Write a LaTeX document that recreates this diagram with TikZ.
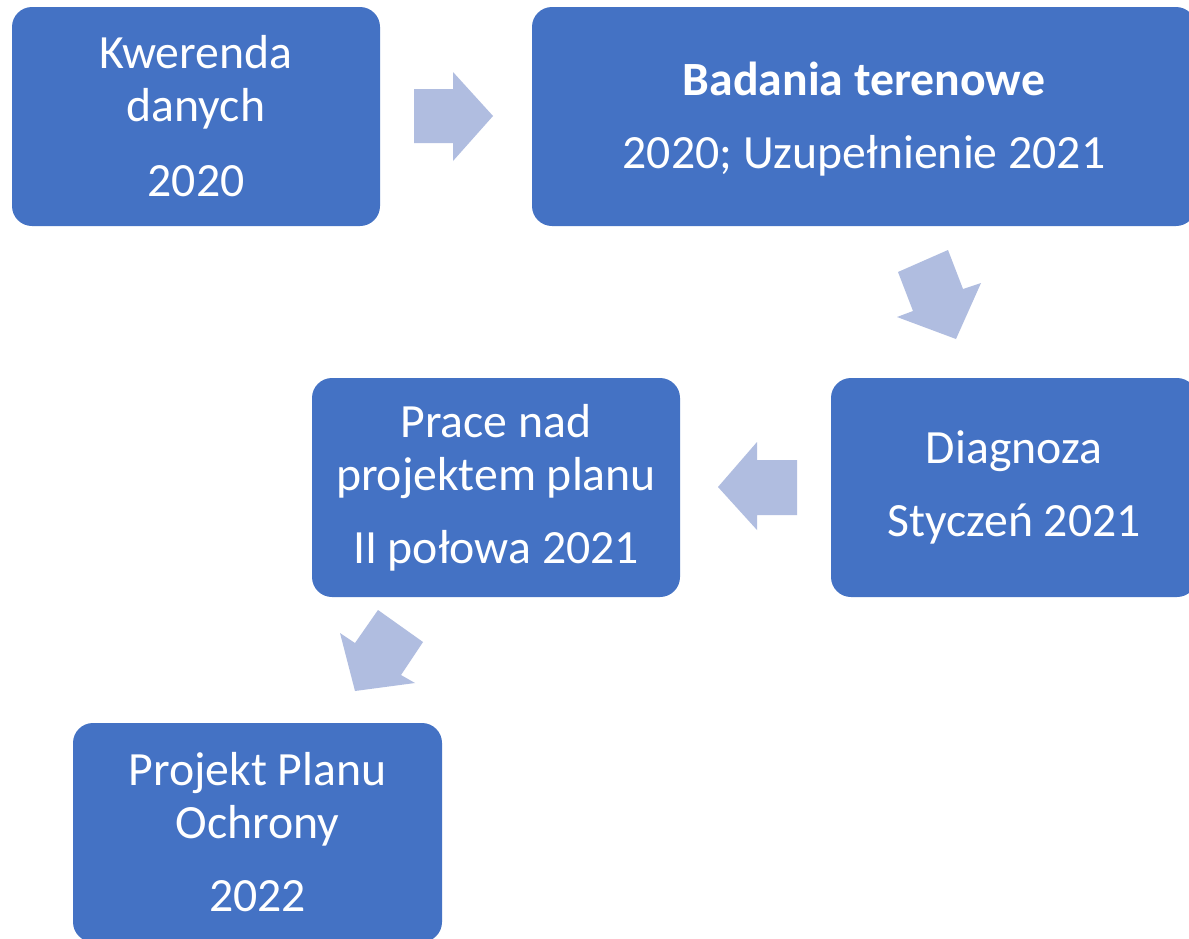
\documentclass[tikz,border=0pt]{standalone}
\usepackage{fontspec}
\setmainfont{Carlito}
\definecolor{boxblue}{HTML}{4472C4}
\definecolor{arrowblue}{HTML}{B0BDE0}
\begin{document}
\begin{tikzpicture}[x=0.75pt,y=-0.75pt,
  stepbox/.style={draw=none,fill=boxblue,rounded corners=15pt,text=white,align=center,
    inner sep=0pt,font=\fontsize{35.8pt}{39.75pt}\selectfont},
  steptext/.style={text=white,align=center,inner sep=0pt,font=\fontsize{35.8pt}{39.75pt}\selectfont},
  blockarrow/.style={fill=arrowblue,draw=none}]
\useasboundingbox (0,0) rectangle (1189,939);
\fill[white] (0,0) rectangle (1189,939);
% boxes
\node[stepbox,minimum width=368*0.75pt,minimum height=219*0.75pt] (b1) at (196,116.5)
  {Kwerenda\\danych\\[16.5pt]2020};
\node[stepbox,minimum width=664*0.75pt,minimum height=219*0.75pt] (b2) at (864,116.5) {};
\node[steptext] (b2t) at (864,119.5)
  {\textbf{Badania terenowe}\\[15pt]2020; Uzupełnienie 2021};
\node[stepbox,minimum width=368*0.75pt,minimum height=219*0.75pt] (b3) at (496,487.5)
  {Prace nad\\projektem planu\\[15pt]II połowa 2021};
\node[stepbox,minimum width=366*0.75pt,minimum height=219*0.75pt] (b4) at (1014,487.5)
  {Diagnoza\\[15pt]Styczeń 2021};
\node[stepbox,minimum width=369*0.75pt,minimum height=219*0.75pt] (b5) at (257.5,832.5)
  {Projekt Planu\\Ochrony\\[15pt]2022};
% block arrows
\fill[blockarrow] (414,89) -- (453,89) -- (453,72) -- (493,116) -- (453,161) -- (453,143) -- (414,143) -- cycle;
\fill[blockarrow] (898,272) -- (948,250) -- (963,289) -- (981,283) -- (956,339) -- (897,317) -- (913,311) -- cycle;
\fill[blockarrow] (797,460) -- (757,460) -- (757,442) -- (718,487) -- (757,530) -- (757,515) -- (797,515) -- cycle;
\fill[blockarrow] (378,610) -- (423,642) -- (401,675) -- (415,683) -- (355,691) -- (340,633) -- (355,643) -- cycle;
\end{tikzpicture}
\end{document}
